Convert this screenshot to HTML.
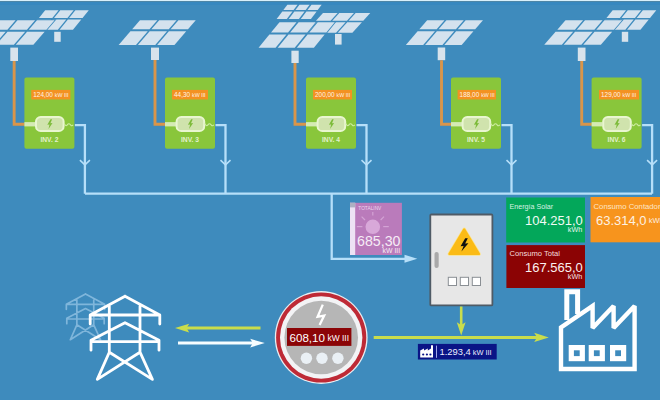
<!DOCTYPE html>
<html><head><meta charset="utf-8"><style>
html,body{margin:0;padding:0;background:#3e8bbd;width:660px;height:400px;overflow:hidden}
svg{display:block}
text{font-family:"Liberation Sans",sans-serif}
</style></head><body>
<svg width="660" height="400" viewBox="0 0 660 400">
<rect x="0" y="0" width="660" height="400" fill="#3e8bbd"/>
<rect x="0" y="0" width="660" height="1" fill="#d8f0fb"/>
<rect x="0" y="1" width="660" height="1" fill="#4e86a6"/>
<rect x="0" y="2" width="660" height="3" fill="#3788bf"/>
<polygon points="45.17,10.35 58.57,10.35 52.34,17.95 38.94,17.95" fill="#d4e2ee"/>
<polygon points="60.27,10.35 73.67,10.35 67.44,17.95 54.04,17.95" fill="#d4e2ee"/>
<polygon points="75.37,10.35 88.77,10.35 82.54,17.95 69.14,17.95" fill="#d4e2ee"/>
<polygon points="37.71,19.45 51.11,19.45 42.75,29.65 29.35,29.65" fill="#d4e2ee"/>
<polygon points="52.81,19.45 66.21,19.45 57.85,29.65 44.45,29.65" fill="#d4e2ee"/>
<polygon points="67.91,19.45 81.31,19.45 72.95,29.65 59.55,29.65" fill="#d4e2ee"/>
<polygon points="27.06,31.65 44.66,31.65 33.35,44.65 15.75,44.65" fill="#3e8bbd" stroke="#3e8bbd" stroke-width="1.8"/>
<polygon points="7.56,31.65 25.16,31.65 13.85,44.65 -3.75,44.65" fill="#3e8bbd" stroke="#3e8bbd" stroke-width="1.8"/>
<polygon points="-11.94,31.65 5.66,31.65 -5.65,44.65 -23.25,44.65" fill="#3e8bbd" stroke="#3e8bbd" stroke-width="1.8"/>
<polygon points="36.98,20.25 54.58,20.25 46.40,29.65 28.80,29.65" fill="#3e8bbd" stroke="#3e8bbd" stroke-width="1.8"/>
<polygon points="17.48,20.25 35.08,20.25 26.90,29.65 9.30,29.65" fill="#3e8bbd" stroke="#3e8bbd" stroke-width="1.8"/>
<polygon points="-2.02,20.25 15.58,20.25 7.40,29.65 -10.20,29.65" fill="#3e8bbd" stroke="#3e8bbd" stroke-width="1.8"/>
<polygon points="-2.02,20.25 15.58,20.25 7.40,29.65 -10.20,29.65" fill="#d4e2ee"/>
<polygon points="17.48,20.25 35.08,20.25 26.90,29.65 9.30,29.65" fill="#d4e2ee"/>
<polygon points="36.98,20.25 54.58,20.25 46.40,29.65 28.80,29.65" fill="#d4e2ee"/>
<polygon points="-11.94,31.65 5.66,31.65 -5.65,44.65 -23.25,44.65" fill="#d4e2ee"/>
<polygon points="7.56,31.65 25.16,31.65 13.85,44.65 -3.75,44.65" fill="#d4e2ee"/>
<polygon points="27.06,31.65 44.66,31.65 33.35,44.65 15.75,44.65" fill="#d4e2ee"/>
<polygon points="139.98,20.25 157.31,20.25 149.49,29.35 132.15,29.35" fill="#d4e2ee"/>
<polygon points="159.21,20.25 176.55,20.25 168.72,29.35 151.39,29.35" fill="#d4e2ee"/>
<polygon points="178.45,20.25 195.78,20.25 187.95,29.35 170.62,29.35" fill="#d4e2ee"/>
<polygon points="130.43,31.35 147.77,31.35 135.98,45.05 118.65,45.05" fill="#d4e2ee"/>
<polygon points="149.67,31.35 167.00,31.35 155.22,45.05 137.88,45.05" fill="#d4e2ee"/>
<polygon points="168.90,31.35 186.23,31.35 174.45,45.05 157.12,45.05" fill="#d4e2ee"/>
<polygon points="287.36,4.75 297.53,4.75 293.55,10.05 283.39,10.05" fill="#d4e2ee"/>
<polygon points="299.43,4.75 309.60,4.75 305.62,10.05 295.45,10.05" fill="#d4e2ee"/>
<polygon points="311.50,4.75 321.66,4.75 317.69,10.05 307.52,10.05" fill="#d4e2ee"/>
<polygon points="282.34,11.45 292.50,11.45 286.80,19.05 276.64,19.05" fill="#d4e2ee"/>
<polygon points="294.40,11.45 304.57,11.45 298.87,19.05 288.70,19.05" fill="#d4e2ee"/>
<polygon points="306.47,11.45 316.64,11.45 310.94,19.05 300.77,19.05" fill="#d4e2ee"/>
<polygon points="322.99,12.95 337.62,12.95 330.60,20.75 315.97,20.75" fill="#d4e2ee"/>
<polygon points="339.32,12.95 353.95,12.95 346.93,20.75 332.30,20.75" fill="#d4e2ee"/>
<polygon points="355.65,12.95 370.28,12.95 363.26,20.75 348.63,20.75" fill="#d4e2ee"/>
<polygon points="314.62,22.25 329.25,22.25 319.71,32.85 305.08,32.85" fill="#d4e2ee"/>
<polygon points="330.95,22.25 345.58,22.25 336.04,32.85 321.41,32.85" fill="#d4e2ee"/>
<polygon points="347.28,22.25 361.91,22.25 352.38,32.85 337.74,32.85" fill="#d4e2ee"/>
<polygon points="307.65,34.55 324.69,34.55 313.86,47.75 296.83,47.75" fill="#3e8bbd" stroke="#3e8bbd" stroke-width="1.8"/>
<polygon points="288.52,34.55 305.55,34.55 294.73,47.75 277.70,47.75" fill="#3e8bbd" stroke="#3e8bbd" stroke-width="1.8"/>
<polygon points="269.39,34.55 286.42,34.55 275.60,47.75 258.56,47.75" fill="#3e8bbd" stroke="#3e8bbd" stroke-width="1.8"/>
<polygon points="317.74,22.25 334.77,22.25 326.33,32.55 309.29,32.55" fill="#3e8bbd" stroke="#3e8bbd" stroke-width="1.8"/>
<polygon points="298.61,22.25 315.64,22.25 307.19,32.55 290.16,32.55" fill="#3e8bbd" stroke="#3e8bbd" stroke-width="1.8"/>
<polygon points="279.47,22.25 296.51,22.25 288.06,32.55 271.03,32.55" fill="#3e8bbd" stroke="#3e8bbd" stroke-width="1.8"/>
<polygon points="279.47,22.25 296.51,22.25 288.06,32.55 271.03,32.55" fill="#d4e2ee"/>
<polygon points="298.61,22.25 315.64,22.25 307.19,32.55 290.16,32.55" fill="#d4e2ee"/>
<polygon points="317.74,22.25 334.77,22.25 326.33,32.55 309.29,32.55" fill="#d4e2ee"/>
<polygon points="269.39,34.55 286.42,34.55 275.60,47.75 258.56,47.75" fill="#d4e2ee"/>
<polygon points="288.52,34.55 305.55,34.55 294.73,47.75 277.70,47.75" fill="#d4e2ee"/>
<polygon points="307.65,34.55 324.69,34.55 313.86,47.75 296.83,47.75" fill="#d4e2ee"/>
<polygon points="427.18,20.25 444.51,20.25 436.69,29.35 419.35,29.35" fill="#d4e2ee"/>
<polygon points="446.41,20.25 463.75,20.25 455.92,29.35 438.59,29.35" fill="#d4e2ee"/>
<polygon points="465.65,20.25 482.98,20.25 475.15,29.35 457.82,29.35" fill="#d4e2ee"/>
<polygon points="417.63,31.35 434.97,31.35 423.18,45.05 405.85,45.05" fill="#d4e2ee"/>
<polygon points="436.87,31.35 454.20,31.35 442.42,45.05 425.08,45.05" fill="#d4e2ee"/>
<polygon points="456.10,31.35 473.43,31.35 461.65,45.05 444.32,45.05" fill="#d4e2ee"/>
<polygon points="612.67,10.35 626.07,10.35 619.84,17.95 606.44,17.95" fill="#d4e2ee"/>
<polygon points="627.77,10.35 641.17,10.35 634.94,17.95 621.54,17.95" fill="#d4e2ee"/>
<polygon points="642.87,10.35 656.27,10.35 650.04,17.95 636.64,17.95" fill="#d4e2ee"/>
<polygon points="605.21,19.45 618.61,19.45 610.25,29.65 596.85,29.65" fill="#d4e2ee"/>
<polygon points="620.31,19.45 633.71,19.45 625.35,29.65 611.95,29.65" fill="#d4e2ee"/>
<polygon points="635.41,19.45 648.81,19.45 640.45,29.65 627.05,29.65" fill="#d4e2ee"/>
<polygon points="594.56,31.65 612.16,31.65 600.85,44.65 583.25,44.65" fill="#3e8bbd" stroke="#3e8bbd" stroke-width="1.8"/>
<polygon points="575.06,31.65 592.66,31.65 581.35,44.65 563.75,44.65" fill="#3e8bbd" stroke="#3e8bbd" stroke-width="1.8"/>
<polygon points="555.56,31.65 573.16,31.65 561.85,44.65 544.25,44.65" fill="#3e8bbd" stroke="#3e8bbd" stroke-width="1.8"/>
<polygon points="604.48,20.25 622.08,20.25 613.90,29.65 596.30,29.65" fill="#3e8bbd" stroke="#3e8bbd" stroke-width="1.8"/>
<polygon points="584.98,20.25 602.58,20.25 594.40,29.65 576.80,29.65" fill="#3e8bbd" stroke="#3e8bbd" stroke-width="1.8"/>
<polygon points="565.48,20.25 583.08,20.25 574.90,29.65 557.30,29.65" fill="#3e8bbd" stroke="#3e8bbd" stroke-width="1.8"/>
<polygon points="565.48,20.25 583.08,20.25 574.90,29.65 557.30,29.65" fill="#d4e2ee"/>
<polygon points="584.98,20.25 602.58,20.25 594.40,29.65 576.80,29.65" fill="#d4e2ee"/>
<polygon points="604.48,20.25 622.08,20.25 613.90,29.65 596.30,29.65" fill="#d4e2ee"/>
<polygon points="555.56,31.65 573.16,31.65 561.85,44.65 544.25,44.65" fill="#d4e2ee"/>
<polygon points="575.06,31.65 592.66,31.65 581.35,44.65 563.75,44.65" fill="#d4e2ee"/>
<polygon points="594.56,31.65 612.16,31.65 600.85,44.65 583.25,44.65" fill="#d4e2ee"/>
<rect x="10.30" y="47.60" width="7.70" height="13.40" fill="#d8e3ec"/>
<rect x="54.20" y="31.80" width="6.50" height="10.00" fill="#d8e3ec"/>
<rect x="151.00" y="47.60" width="8.00" height="12.40" fill="#d8e3ec"/>
<rect x="291.40" y="50.70" width="7.30" height="12.30" fill="#d8e3ec"/>
<rect x="335.00" y="34.00" width="6.60" height="10.60" fill="#d8e3ec"/>
<rect x="437.70" y="47.50" width="7.50" height="12.70" fill="#d8e3ec"/>
<rect x="577.80" y="47.60" width="7.70" height="13.40" fill="#d8e3ec"/>
<rect x="621.80" y="31.80" width="6.40" height="10.00" fill="#d8e3ec"/>
<polyline points="14.15,61.00 14.15,124.2 25.40,124.2" fill="none" stroke="#d9954a" stroke-width="2.9"/>
<rect x="24.40" y="77.4" width="50" height="71.4" rx="2" fill="#89c63b"/>
<rect x="31.25" y="89.9" width="39.15" height="9.6" fill="#f39222"/>
<text x="33.25" y="97.4" font-size="7" fill="#fff3e4" textLength="19.65" lengthAdjust="spacingAndGlyphs">124,00</text>
<text x="54.80" y="97.4" font-size="5.8" fill="#fff3e4" textLength="13.6" lengthAdjust="spacingAndGlyphs">kW III</text>
<rect x="24.40" y="122.1" width="11" height="4.3" fill="#d5eab5"/>
<rect x="36.00" y="117" width="27.6" height="14" rx="4.6" fill="#d0e3ad" stroke="#e9f6d0" stroke-width="2"/>
<path d="M50.50,119.2 L47.30,124.8 L49.50,124.6 L48.50,129 L52.50,123 L50.40,123.2 L52.10,119.2 Z" fill="#7dbb3a"/>
<path d="M64.10,123.6 q1.6,3.2 3.2,1.2 t3.2,0 t2.6,0" fill="none" stroke="#cdeca2" stroke-width="1.1"/>
<text x="49.40" y="142.2" font-size="6.8" font-weight="bold" fill="#e2f1cc" text-anchor="middle" textLength="18" lengthAdjust="spacingAndGlyphs">INV. 2</text>
<polyline points="74.90,125.2 84.90,125.2 84.90,193.7" fill="none" stroke="#b6dff9" stroke-width="2.3"/>
<polyline points="79.90,160.2 84.90,164.8 89.90,160.2" fill="none" stroke="#b6dff9" stroke-width="1.6"/>
<polyline points="155.00,60.00 155.00,124.2 166.00,124.2" fill="none" stroke="#d9954a" stroke-width="2.9"/>
<rect x="165.00" y="77.4" width="50" height="71.4" rx="2" fill="#89c63b"/>
<rect x="172.00" y="89.9" width="36.00" height="9.6" fill="#f39222"/>
<text x="174.00" y="97.4" font-size="7" fill="#fff3e4" textLength="16.10" lengthAdjust="spacingAndGlyphs">44,30</text>
<text x="192.00" y="97.4" font-size="5.8" fill="#fff3e4" textLength="13.6" lengthAdjust="spacingAndGlyphs">kW III</text>
<rect x="165.00" y="122.1" width="11" height="4.3" fill="#d5eab5"/>
<rect x="176.60" y="117" width="27.6" height="14" rx="4.6" fill="#d0e3ad" stroke="#e9f6d0" stroke-width="2"/>
<path d="M191.10,119.2 L187.90,124.8 L190.10,124.6 L189.10,129 L193.10,123 L191.00,123.2 L192.70,119.2 Z" fill="#7dbb3a"/>
<path d="M204.70,123.6 q1.6,3.2 3.2,1.2 t3.2,0 t2.6,0" fill="none" stroke="#cdeca2" stroke-width="1.1"/>
<text x="190.00" y="142.2" font-size="6.8" font-weight="bold" fill="#e2f1cc" text-anchor="middle" textLength="18" lengthAdjust="spacingAndGlyphs">INV. 3</text>
<polyline points="215.50,125.2 225.50,125.2 225.50,193.7" fill="none" stroke="#b6dff9" stroke-width="2.3"/>
<polyline points="220.50,160.2 225.50,164.8 230.50,160.2" fill="none" stroke="#b6dff9" stroke-width="1.6"/>
<polyline points="295.00,63.00 295.00,124.2 307.00,124.2" fill="none" stroke="#d9954a" stroke-width="2.9"/>
<rect x="306.00" y="77.4" width="50" height="71.4" rx="2" fill="#89c63b"/>
<rect x="313.00" y="89.9" width="39.00" height="9.6" fill="#f39222"/>
<text x="315.00" y="97.4" font-size="7" fill="#fff3e4" textLength="19.65" lengthAdjust="spacingAndGlyphs">200,00</text>
<text x="336.55" y="97.4" font-size="5.8" fill="#fff3e4" textLength="13.6" lengthAdjust="spacingAndGlyphs">kW III</text>
<rect x="306.00" y="122.1" width="11" height="4.3" fill="#d5eab5"/>
<rect x="317.60" y="117" width="27.6" height="14" rx="4.6" fill="#d0e3ad" stroke="#e9f6d0" stroke-width="2"/>
<path d="M332.10,119.2 L328.90,124.8 L331.10,124.6 L330.10,129 L334.10,123 L332.00,123.2 L333.70,119.2 Z" fill="#7dbb3a"/>
<path d="M345.70,123.6 q1.6,3.2 3.2,1.2 t3.2,0 t2.6,0" fill="none" stroke="#cdeca2" stroke-width="1.1"/>
<text x="331.00" y="142.2" font-size="6.8" font-weight="bold" fill="#e2f1cc" text-anchor="middle" textLength="18" lengthAdjust="spacingAndGlyphs">INV. 4</text>
<polyline points="356.50,125.2 366.50,125.2 366.50,193.7" fill="none" stroke="#b6dff9" stroke-width="2.3"/>
<polyline points="361.50,160.2 366.50,164.8 371.50,160.2" fill="none" stroke="#b6dff9" stroke-width="1.6"/>
<polyline points="441.50,60.20 441.50,124.2 452.00,124.2" fill="none" stroke="#d9954a" stroke-width="2.9"/>
<rect x="451.00" y="77.4" width="50" height="71.4" rx="2" fill="#89c63b"/>
<rect x="457.60" y="89.9" width="38.40" height="9.6" fill="#f39222"/>
<text x="459.60" y="97.4" font-size="7" fill="#fff3e4" textLength="19.65" lengthAdjust="spacingAndGlyphs">188,00</text>
<text x="481.15" y="97.4" font-size="5.8" fill="#fff3e4" textLength="13.6" lengthAdjust="spacingAndGlyphs">kW III</text>
<rect x="451.00" y="122.1" width="11" height="4.3" fill="#d5eab5"/>
<rect x="462.60" y="117" width="27.6" height="14" rx="4.6" fill="#d0e3ad" stroke="#e9f6d0" stroke-width="2"/>
<path d="M477.10,119.2 L473.90,124.8 L476.10,124.6 L475.10,129 L479.10,123 L477.00,123.2 L478.70,119.2 Z" fill="#7dbb3a"/>
<path d="M490.70,123.6 q1.6,3.2 3.2,1.2 t3.2,0 t2.6,0" fill="none" stroke="#cdeca2" stroke-width="1.1"/>
<text x="476.00" y="142.2" font-size="6.8" font-weight="bold" fill="#e2f1cc" text-anchor="middle" textLength="18" lengthAdjust="spacingAndGlyphs">INV. 5</text>
<polyline points="501.50,125.2 511.50,125.2 511.50,193.7" fill="none" stroke="#b6dff9" stroke-width="2.3"/>
<polyline points="506.50,160.2 511.50,164.8 516.50,160.2" fill="none" stroke="#b6dff9" stroke-width="1.6"/>
<polyline points="581.70,61.00 581.70,124.2 592.60,124.2" fill="none" stroke="#d9954a" stroke-width="2.9"/>
<rect x="591.60" y="77.4" width="50" height="71.4" rx="2" fill="#89c63b"/>
<rect x="599.00" y="89.9" width="40.00" height="9.6" fill="#f39222"/>
<text x="601.00" y="97.4" font-size="7" fill="#fff3e4" textLength="19.65" lengthAdjust="spacingAndGlyphs">129,00</text>
<text x="622.55" y="97.4" font-size="5.8" fill="#fff3e4" textLength="13.6" lengthAdjust="spacingAndGlyphs">kW III</text>
<rect x="591.60" y="122.1" width="11" height="4.3" fill="#d5eab5"/>
<rect x="603.20" y="117" width="27.6" height="14" rx="4.6" fill="#d0e3ad" stroke="#e9f6d0" stroke-width="2"/>
<path d="M617.70,119.2 L614.50,124.8 L616.70,124.6 L615.70,129 L619.70,123 L617.60,123.2 L619.30,119.2 Z" fill="#7dbb3a"/>
<path d="M631.30,123.6 q1.6,3.2 3.2,1.2 t3.2,0 t2.6,0" fill="none" stroke="#cdeca2" stroke-width="1.1"/>
<text x="616.60" y="142.2" font-size="6.8" font-weight="bold" fill="#e2f1cc" text-anchor="middle" textLength="18" lengthAdjust="spacingAndGlyphs">INV. 6</text>
<polyline points="642.10,125.2 652.10,125.2 652.10,193.7" fill="none" stroke="#b6dff9" stroke-width="2.3"/>
<polyline points="647.10,160.2 652.10,164.8 657.10,160.2" fill="none" stroke="#b6dff9" stroke-width="1.6"/>
<polyline points="85,193.7 652,193.7" fill="none" stroke="#b6dff9" stroke-width="2.3"/>
<polyline points="331.7,193.7 331.7,258.8 406,258.8" fill="none" stroke="#b6dff9" stroke-width="2.3"/>
<polygon points="404.5,254.8 417.3,258.8 404.5,262.8" fill="#b6dff9"/>
<rect x="350" y="202.8" width="51.9" height="52.2" fill="#ba7bbb"/>
<rect x="350" y="202.8" width="5.2" height="52.2" fill="#ede2f4"/>
<rect x="350" y="202.8" width="5.2" height="4.6" fill="#aeb0c2"/>
<text x="358.3" y="210.2" font-size="5" fill="#ecd6ee" textLength="23" lengthAdjust="spacingAndGlyphs">TOTALINV</text>
<g stroke="#d4a3d5" stroke-width="1.2"><line x1="372.8" y1="212" x2="372.8" y2="215.6"/><line x1="361.6" y1="216.6" x2="365" y2="220"/><line x1="384" y1="216.6" x2="380.6" y2="220"/><line x1="356.8" y1="226.6" x2="362.4" y2="226.6"/><line x1="388.8" y1="226.6" x2="383.2" y2="226.6"/></g>
<circle cx="372.8" cy="226.8" r="7.3" fill="#d8a8d9"/>
<text x="400.5" y="245.6" font-size="14.2" fill="#f6ecf6" text-anchor="end">685,30</text>
<text x="400.2" y="253.4" font-size="6.9" fill="#f6ecf6" text-anchor="end">kW III</text>
<rect x="430.3" y="214.5" width="62.1" height="90.9" rx="1" fill="#e7e7e7" stroke="#4f5b66" stroke-width="1.8"/>
<rect x="434.5" y="252" width="4.2" height="16" rx="2" fill="#a9a9a9"/>
<polygon points="464.2,229.4 479,254 449.4,254" fill="#fbbb16" stroke="#fde48a" stroke-width="3.6" stroke-linejoin="round"/>
<polygon points="464.2,229.4 479,254 449.4,254" fill="#fbbb16" stroke="#fbbb16" stroke-width="2.2" stroke-linejoin="round"/>
<path d="M465.2,238.2 L460.6,246.2 L463.6,246 L461.4,251.4 L468.4,243.2 L465.2,243.4 L467.8,238.2 Z" fill="#111111"/>
<rect x="448.3" y="277.3" width="8.2" height="8.2" fill="#ffffff" stroke="#8a8f94" stroke-width="1"/>
<rect x="460.3" y="277.3" width="8.2" height="8.2" fill="#ffffff" stroke="#8a8f94" stroke-width="1"/>
<rect x="472.3" y="277.3" width="8.2" height="8.2" fill="#ffffff" stroke="#8a8f94" stroke-width="1"/>
<rect x="506.2" y="197.5" width="78.8" height="45" fill="#03a75a"/>
<text x="509.5" y="208.5" font-size="7.6" fill="#d9f2e2" textLength="43.7" lengthAdjust="spacingAndGlyphs">Energía Solar</text>
<text x="582.8" y="225" font-size="13" fill="#f2fbf5" text-anchor="end">104.251,0</text>
<text x="582.2" y="231.9" font-size="7.2" fill="#e8f7ee" text-anchor="end">kWh</text>
<rect x="506.4" y="245.1" width="78.6" height="42.9" fill="#8b0304"/>
<text x="509.5" y="256.2" font-size="7.6" fill="#f4dede" textLength="50.5" lengthAdjust="spacingAndGlyphs">Consumo Total</text>
<text x="582.8" y="272" font-size="13" fill="#fbf0f0" text-anchor="end">167.565,0</text>
<text x="582.2" y="279.3" font-size="7.2" fill="#f6e6e6" text-anchor="end">kWh</text>
<rect x="590.5" y="197" width="75" height="45.3" fill="#f7941d"/>
<text x="593.5" y="208.5" font-size="7.6" fill="#fde6c8" textLength="67" lengthAdjust="spacingAndGlyphs">Consumo Contador</text>
<text x="596" y="225.2" font-size="13" fill="#fdf1e2">63.314,0</text>
<text x="648.8" y="223.2" font-size="7.4" fill="#fdf1e2">kWh</text>
<path d="M66.36,309.29 L66.36,304.34 L85.50,294.00 M85.50,294.00 L104.64,304.34 L104.64,309.29 M66.36,304.34 L104.64,304.34 M66.80,323.70 L66.80,318.20 L85.50,308.57 L104.20,318.20 L104.20,323.70 M66.80,319.02 L104.20,319.02 M76.86,299.50 L76.86,324.80 M93.75,299.50 L93.75,324.80 M76.86,324.80 L70.27,339.76 L93.75,324.80 M76.86,324.80 L100.57,339.76 L93.75,324.80" fill="none" stroke="#a8d0ee" stroke-width="1.70" stroke-linecap="round" stroke-linejoin="round" opacity="0.62"/>
<path d="M90.20,324.00 L90.20,315.00 L125.00,296.20 M125.00,296.20 L159.80,315.00 L159.80,324.00 M90.20,315.00 L159.80,315.00 M91.00,350.20 L91.00,340.20 L125.00,322.70 L159.00,340.20 L159.00,350.20 M91.00,341.70 L159.00,341.70 M109.30,306.20 L109.30,352.20 M140.00,306.20 L140.00,352.20 M109.30,352.20 L97.30,379.40 L140.00,352.20 M109.30,352.20 L152.40,379.40 L140.00,352.20" fill="none" stroke="#ffffff" stroke-width="2.80" stroke-linecap="round" stroke-linejoin="round" opacity="1.00"/>
<line x1="186" y1="328.1" x2="260.5" y2="328.1" stroke="#c9dd4c" stroke-width="3"/>
<polygon points="175,328.1 189.2,323.8 186.6,328.1 189.2,332.4" fill="#c9dd4c"/>
<line x1="178" y1="343.1" x2="253.5" y2="343.1" stroke="#f6fdff" stroke-width="3"/>
<polygon points="264.8,343.1 250.2,338.8 252.8,343.1 250.2,347.4" fill="#f6fdff"/>
<circle cx="321.2" cy="337.5" r="46.4" fill="#e9eef2"/>
<circle cx="321.2" cy="337.5" r="45.1" fill="#be2a36"/>
<circle cx="321.2" cy="337.5" r="41.2" fill="#f3f3f5"/>
<circle cx="321.2" cy="337.5" r="36.8" fill="#b6b6b6"/>
<path d="M322.8,304.6 L317.6,316.8 L324.2,315.6 L319.6,325" fill="none" stroke="#ffffff" stroke-width="2.3" stroke-linejoin="miter" stroke-miterlimit="3"/>
<rect x="287" y="328" width="64.4" height="17.9" fill="#8b0507"/>
<text x="289.5" y="342" font-size="11.6" fill="#ffffff">608,10<tspan font-size="8.4" dx="2.6" dy="-1.2">kW III</tspan></text>
<circle cx="306.4" cy="358.2" r="5.7" fill="#eaf0f5"/>
<circle cx="322.0" cy="358.2" r="5.7" fill="#eaf0f5"/>
<circle cx="337.9" cy="358.2" r="5.7" fill="#eaf0f5"/>
<line x1="373.7" y1="337.4" x2="537" y2="337.4" stroke="#c9dd4c" stroke-width="3"/>
<polygon points="548.8,337.4 534.2,332.8 537,337.4 534.2,342" fill="#c9dd4c"/>
<line x1="461.2" y1="306.5" x2="461.2" y2="326" stroke="#c9dd4c" stroke-width="2.6"/>
<polygon points="461.2,335.6 456.8,322.2 461.2,325 465.6,322.2" fill="#c9dd4c"/>
<rect x="417.9" y="343.9" width="78.8" height="15.6" fill="#0a1486"/>
<path d="M420.2,357.6 L420.2,350.6 L424,348.4 L424,350.6 L427.8,348.4 L427.8,350.6 L431,348.4 L431,345.2 L433,345.2 L433,357.6 Z" fill="#ffffff"/>
<circle cx="423.2" cy="354.5" r="1.1" fill="#0a1486"/>
<circle cx="426.9" cy="354.5" r="1.1" fill="#0a1486"/>
<circle cx="430.4" cy="354.5" r="1.1" fill="#0a1486"/>
<rect x="436" y="345.6" width="1" height="12.2" fill="#a0a8e8"/>
<text x="439.5" y="354.6" font-size="9.4" fill="#eef0ff">1.293,4<tspan font-size="7.4" dx="2">kW III</tspan></text>
<path d="M561,369 L561,327.5 L592.6,306 L592.6,328 L613.6,306 L613.6,328 L634.6,306 L634.6,369 Z" fill="none" stroke="#ffffff" stroke-width="4.4" stroke-linejoin="miter" stroke-miterlimit="2.2"/>
<path d="M566.8,320 L566.8,291.8 L577.6,291.8 L577.6,314" fill="none" stroke="#ffffff" stroke-width="5"/>
<rect x="568.7" y="345" width="16.2" height="16.2" fill="#ffffff"/>
<rect x="573.9" y="350.3" width="5.8" height="5.8" fill="#3e8bbd"/>
<rect x="588.7" y="345" width="16.2" height="16.2" fill="#ffffff"/>
<rect x="593.9" y="350.3" width="5.8" height="5.8" fill="#3e8bbd"/>
<rect x="610.0" y="345" width="16.2" height="16.2" fill="#ffffff"/>
<rect x="615.2" y="350.3" width="5.8" height="5.8" fill="#3e8bbd"/>
</svg>
</body></html>
